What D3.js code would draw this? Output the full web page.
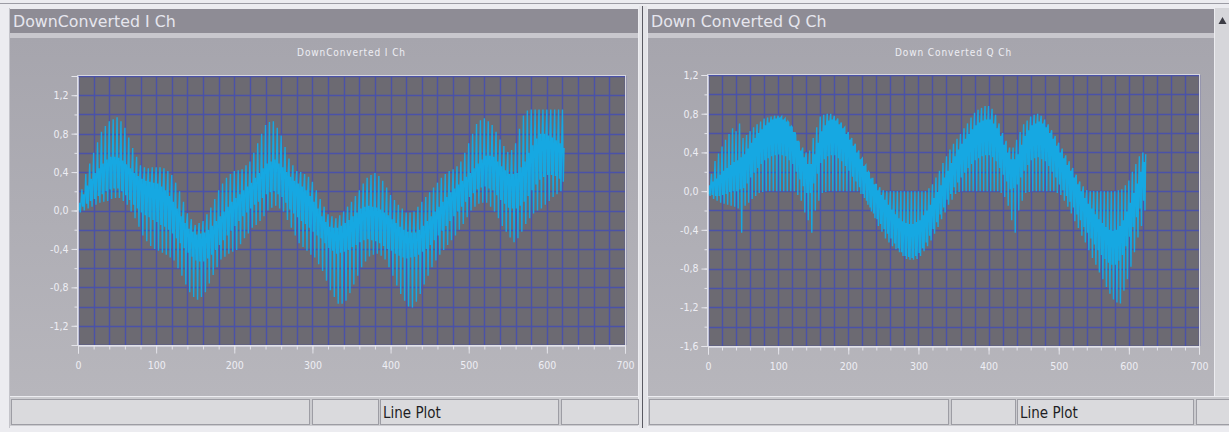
<!DOCTYPE html>
<html>
<head>
<meta charset="utf-8">
<script src="https://cdn.jsdelivr.net/npm/d3@7"></script>
<style>
  html, body { margin: 0; padding: 0; background: #ececf0; }
  svg { display: block; }
</style>
</head>
<body>
<svg id="scope" width="1229" height="432"></svg>
<script>
// Sample spacing of the captured records (time units per sample)
const sampleStep = 1;

// Down-converted I channel samples (one row = 10 consecutive samples)
const iChannel = [
  0.00, 0.01, 0.08, -0.02, 0.10, 0.22, 0.04, 0.17, 0.00, 0.18,
  0.38, 0.07, 0.26, 0.02, 0.26, 0.49, 0.10, 0.33, 0.04, 0.33,
  0.60, 0.12, 0.39, 0.06, 0.39, 0.71, 0.15, 0.44, 0.08, 0.44,
  0.82, 0.17, 0.49, 0.09, 0.49, 0.88, 0.20, 0.53, 0.10, 0.53,
  0.93, 0.22, 0.56, 0.12, 0.56, 0.95, 0.23, 0.56, 0.13, 0.56,
  0.97, 0.23, 0.55, 0.13, 0.55, 0.93, 0.20, 0.52, 0.10, 0.52,
  0.86, 0.16, 0.48, 0.06, 0.48, 0.76, 0.11, 0.44, -0.01, 0.44,
  0.65, 0.06, 0.39, -0.08, 0.39, 0.56, 0.02, 0.36, -0.17, 0.36,
  0.47, -0.02, 0.33, -0.26, 0.33, 0.45, -0.05, 0.31, -0.32, 0.31,
  0.44, -0.07, 0.30, -0.37, 0.30, 0.45, -0.10, 0.29, -0.40, 0.29,
  0.45, -0.12, 0.28, -0.42, 0.28, 0.45, -0.15, 0.25, -0.44, 0.25,
  0.44, -0.17, 0.21, -0.46, 0.21, 0.41, -0.20, 0.15, -0.49, 0.15,
  0.37, -0.24, 0.09, -0.52, 0.09, 0.29, -0.29, 0.02, -0.60, 0.02,
  0.20, -0.34, -0.06, -0.68, -0.06, 0.09, -0.39, -0.13, -0.77, -0.13,
  -0.03, -0.44, -0.19, -0.85, -0.19, -0.09, -0.48, -0.22, -0.90, -0.22,
  -0.15, -0.52, -0.25, -0.93, -0.25, -0.13, -0.53, -0.24, -0.90, -0.24,
  -0.11, -0.53, -0.23, -0.85, -0.23, -0.04, -0.50, -0.20, -0.76, -0.20,
  0.03, -0.46, -0.16, -0.67, -0.16, 0.12, -0.41, -0.11, -0.59, -0.11,
  0.21, -0.36, -0.06, -0.51, -0.06, 0.28, -0.31, -0.01, -0.48, -0.01,
  0.34, -0.26, 0.04, -0.45, 0.04, 0.38, -0.21, 0.09, -0.43, 0.09,
  0.41, -0.16, 0.13, -0.41, 0.13, 0.42, -0.11, 0.17, -0.35, 0.17,
  0.43, -0.06, 0.21, -0.29, 0.21, 0.47, -0.02, 0.25, -0.24, 0.25,
  0.51, 0.02, 0.29, -0.18, 0.29, 0.60, 0.06, 0.34, -0.15, 0.34,
  0.70, 0.09, 0.39, -0.11, 0.39, 0.80, 0.13, 0.44, -0.06, 0.44,
  0.89, 0.17, 0.49, 0.00, 0.49, 0.92, 0.19, 0.51, 0.03, 0.51,
  0.93, 0.20, 0.53, 0.05, 0.53, 0.86, 0.17, 0.49, 0.02, 0.49,
  0.78, 0.14, 0.45, -0.01, 0.45, 0.66, 0.08, 0.40, -0.10, 0.40,
  0.54, 0.01, 0.35, -0.18, 0.35, 0.47, -0.03, 0.31, -0.26, 0.31,
  0.41, -0.07, 0.28, -0.34, 0.28, 0.40, -0.11, 0.25, -0.38, 0.25,
  0.38, -0.14, 0.21, -0.42, 0.21, 0.35, -0.18, 0.15, -0.46, 0.15,
  0.30, -0.22, 0.09, -0.49, 0.09, 0.21, -0.26, 0.02, -0.56, 0.02,
  0.12, -0.29, -0.06, -0.63, -0.06, 0.04, -0.34, -0.12, -0.73, -0.12,
  -0.04, -0.39, -0.17, -0.83, -0.17, -0.06, -0.42, -0.18, -0.90, -0.18,
  -0.08, -0.45, -0.18, -0.97, -0.18, -0.05, -0.44, -0.16, -0.97, -0.16,
  -0.01, -0.43, -0.13, -0.94, -0.13, 0.04, -0.41, -0.10, -0.86, -0.10,
  0.09, -0.38, -0.06, -0.77, -0.06, 0.15, -0.36, -0.02, -0.68, -0.02,
  0.21, -0.33, 0.02, -0.59, 0.02, 0.28, -0.31, 0.04, -0.53, 0.04,
  0.34, -0.30, 0.05, -0.48, 0.05, 0.37, -0.31, 0.04, -0.46, 0.04,
  0.39, -0.32, 0.03, -0.45, 0.03, 0.36, -0.34, 0.01, -0.47, 0.01,
  0.31, -0.37, -0.02, -0.51, -0.02, 0.24, -0.40, -0.05, -0.59, -0.05,
  0.16, -0.42, -0.09, -0.68, -0.09, 0.11, -0.45, -0.13, -0.78, -0.13,
  0.06, -0.47, -0.17, -0.87, -0.17, 0.02, -0.49, -0.20, -0.94, -0.20,
  -0.02, -0.50, -0.22, -1.00, -0.22, -0.02, -0.49, -0.23, -1.01, -0.23,
  -0.01, -0.48, -0.23, -0.95, -0.23, 0.04, -0.46, -0.20, -0.87, -0.20,
  0.09, -0.43, -0.16, -0.77, -0.16, 0.14, -0.40, -0.11, -0.68, -0.11,
  0.19, -0.36, -0.06, -0.59, -0.06, 0.24, -0.31, -0.01, -0.52, -0.01,
  0.29, -0.26, 0.04, -0.46, 0.04, 0.34, -0.21, 0.09, -0.41, 0.09,
  0.38, -0.16, 0.14, -0.36, 0.14, 0.41, -0.11, 0.19, -0.31, 0.19,
  0.43, -0.06, 0.23, -0.26, 0.23, 0.46, -0.01, 0.27, -0.20, 0.27,
  0.51, 0.04, 0.31, -0.14, 0.31, 0.60, 0.09, 0.35, -0.07, 0.35,
  0.70, 0.14, 0.39, 0.00, 0.39, 0.80, 0.18, 0.44, 0.04, 0.44,
  0.90, 0.22, 0.49, 0.07, 0.49, 0.94, 0.24, 0.53, 0.08, 0.53,
  0.96, 0.25, 0.57, 0.08, 0.57, 0.93, 0.23, 0.57, 0.04, 0.57,
  0.89, 0.21, 0.56, -0.01, 0.56, 0.82, 0.16, 0.51, -0.08, 0.51,
  0.74, 0.11, 0.46, -0.16, 0.46, 0.67, 0.07, 0.42, -0.22, 0.42,
  0.61, 0.03, 0.38, -0.28, 0.38, 0.63, 0.02, 0.38, -0.33, 0.38,
  0.70, 0.02, 0.39, -0.29, 0.39, 0.85, 0.05, 0.45, -0.22, 0.45,
  0.99, 0.09, 0.51, -0.14, 0.51, 1.04, 0.15, 0.60, -0.08, 0.60,
  1.05, 0.21, 0.68, -0.03, 0.68, 1.05, 0.27, 0.75, 0.00, 0.75,
  1.05, 0.32, 0.80, 0.02, 0.80, 1.05, 0.35, 0.80, 0.06, 0.80,
  1.05, 0.37, 0.78, 0.10, 0.78, 1.05, 0.37, 0.76, 0.14, 0.76,
  1.05, 0.36, 0.73, 0.17, 0.73, 1.05, 0.33, 0.70, 0.20, 0.70,
  1.05, 0.30, 0.65
];

// Down-converted Q channel samples (one row = 10 consecutive samples)
const qChannel = [
  0.00, -0.03, 0.06, -0.05, 0.08, 0.18, -0.04, 0.10, -0.08, 0.11,
  0.31, -0.05, 0.13, -0.10, 0.13, 0.39, -0.05, 0.17, -0.12, 0.17,
  0.46, -0.04, 0.21, -0.13, 0.21, 0.53, -0.03, 0.24, -0.14, 0.24,
  0.59, -0.01, 0.27, -0.15, 0.27, 0.65, 0.00, 0.30, -0.16, 0.31,
  0.62, 0.00, 0.32, -0.18, 0.33, 0.70, 0.02, 0.35, -0.43, 0.36,
  0.55, 0.03, 0.38, -0.15, 0.40, 0.58, 0.08, 0.44, -0.12, 0.45,
  0.62, 0.14, 0.50, -0.08, 0.50, 0.66, 0.19, 0.55, -0.05, 0.55,
  0.69, 0.24, 0.60, -0.02, 0.60, 0.72, 0.28, 0.64, -0.01, 0.64,
  0.75, 0.32, 0.68, 0.00, 0.68, 0.76, 0.34, 0.71, 0.00, 0.71,
  0.77, 0.36, 0.74, 0.00, 0.74, 0.78, 0.37, 0.75, 0.00, 0.75,
  0.78, 0.38, 0.76, 0.00, 0.76, 0.77, 0.37, 0.74, 0.00, 0.74,
  0.75, 0.36, 0.72, 0.00, 0.72, 0.71, 0.32, 0.67, 0.00, 0.67,
  0.66, 0.28, 0.61, 0.00, 0.61, 0.58, 0.20, 0.52, -0.04, 0.52,
  0.50, 0.12, 0.42, -0.10, 0.42, 0.45, 0.05, 0.35, -0.22, 0.35,
  0.40, -0.02, 0.28, -0.30, 0.28, 0.42, -0.02, 0.28, -0.43, 0.30,
  0.55, 0.08, 0.38, -0.20, 0.40, 0.66, 0.18, 0.50, -0.10, 0.51,
  0.77, 0.29, 0.62, -0.02, 0.62, 0.79, 0.33, 0.68, -0.01, 0.68,
  0.80, 0.36, 0.73, 0.00, 0.73, 0.80, 0.37, 0.74, 0.00, 0.74,
  0.78, 0.37, 0.73, 0.00, 0.73, 0.75, 0.34, 0.69, 0.00, 0.69,
  0.71, 0.31, 0.65, 0.00, 0.65, 0.66, 0.26, 0.59, 0.00, 0.59,
  0.61, 0.21, 0.53, 0.00, 0.53, 0.55, 0.15, 0.47, 0.00, 0.47,
  0.49, 0.10, 0.40, 0.00, 0.40, 0.42, 0.04, 0.33, -0.03, 0.33,
  0.34, -0.03, 0.26, -0.07, 0.26, 0.27, -0.10, 0.20, -0.14, 0.20,
  0.19, -0.17, 0.13, -0.21, 0.13, 0.13, -0.23, 0.07, -0.28, 0.07,
  0.07, -0.29, 0.01, -0.36, 0.01, 0.04, -0.34, -0.04, -0.42, -0.04,
  0.01, -0.39, -0.09, -0.49, -0.09, 0.00, -0.44, -0.14, -0.53, -0.14,
  0.00, -0.49, -0.19, -0.57, -0.19, 0.00, -0.54, -0.24, -0.60, -0.24,
  0.00, -0.59, -0.28, -0.63, -0.28, 0.00, -0.63, -0.31, -0.67, -0.31,
  0.00, -0.67, -0.33, -0.70, -0.33, 0.00, -0.68, -0.34, -0.71, -0.34,
  0.00, -0.69, -0.34, -0.71, -0.34, 0.00, -0.67, -0.32, -0.70, -0.32,
  0.00, -0.64, -0.30, -0.67, -0.30, 0.00, -0.59, -0.25, -0.62, -0.25,
  0.00, -0.53, -0.20, -0.57, -0.20, 0.03, -0.46, -0.14, -0.51, -0.14,
  0.07, -0.39, -0.07, -0.44, -0.07, 0.14, -0.32, -0.01, -0.37, -0.01,
  0.21, -0.24, 0.06, -0.29, 0.06, 0.29, -0.17, 0.14, -0.22, 0.14,
  0.36, -0.09, 0.21, -0.14, 0.21, 0.43, -0.03, 0.29, -0.09, 0.29,
  0.49, 0.04, 0.36, -0.03, 0.36, 0.54, 0.09, 0.43, -0.01, 0.43,
  0.59, 0.14, 0.49, 0.00, 0.49, 0.65, 0.19, 0.54, 0.00, 0.54,
  0.70, 0.24, 0.59, 0.00, 0.59, 0.76, 0.28, 0.64, 0.00, 0.64,
  0.81, 0.32, 0.68, 0.00, 0.68, 0.84, 0.34, 0.71, 0.00, 0.71,
  0.86, 0.36, 0.73, 0.00, 0.73, 0.88, 0.37, 0.74, 0.00, 0.74,
  0.88, 0.37, 0.74, 0.00, 0.74, 0.85, 0.35, 0.70, 0.00, 0.70,
  0.79, 0.31, 0.65, 0.00, 0.65, 0.70, 0.24, 0.57, -0.02, 0.57,
  0.60, 0.17, 0.48, -0.06, 0.48, 0.52, 0.10, 0.40, -0.15, 0.40,
  0.45, 0.02, 0.33, -0.30, 0.33, 0.45, 0.03, 0.33, -0.43, 0.35,
  0.53, 0.07, 0.38, -0.20, 0.40, 0.61, 0.14, 0.48, -0.10, 0.48,
  0.69, 0.21, 0.57, -0.02, 0.57, 0.73, 0.27, 0.63, -0.01, 0.63,
  0.77, 0.32, 0.68, 0.00, 0.68, 0.79, 0.34, 0.70, 0.00, 0.70,
  0.80, 0.35, 0.72, 0.00, 0.72, 0.78, 0.33, 0.70, 0.00, 0.70,
  0.74, 0.31, 0.66, 0.00, 0.66, 0.69, 0.26, 0.60, 0.00, 0.60,
  0.63, 0.20, 0.54, 0.00, 0.54, 0.57, 0.14, 0.47, -0.02, 0.47,
  0.50, 0.07, 0.40, -0.04, 0.40, 0.44, 0.01, 0.34, -0.10, 0.34,
  0.37, -0.05, 0.27, -0.16, 0.27, 0.31, -0.11, 0.21, -0.23, 0.21,
  0.24, -0.17, 0.14, -0.31, 0.14, 0.17, -0.24, 0.07, -0.38, 0.07,
  0.10, -0.30, 0.00, -0.46, 0.00, 0.05, -0.37, -0.07, -0.53, -0.07,
  0.01, -0.43, -0.13, -0.61, -0.13, 0.00, -0.49, -0.18, -0.69, -0.18,
  0.00, -0.55, -0.24, -0.76, -0.24, 0.00, -0.61, -0.29, -0.84, -0.29,
  0.00, -0.66, -0.33, -0.91, -0.33, 0.00, -0.70, -0.37, -0.99, -0.37,
  0.00, -0.74, -0.40, -1.06, -0.40, 0.00, -0.76, -0.41, -1.12, -0.41,
  0.00, -0.76, -0.40, -1.15, -0.40, 0.01, -0.72, -0.36, -1.16, -0.36,
  0.02, -0.66, -0.30, -1.03, -0.30, 0.06, -0.57, -0.21, -0.91, -0.21,
  0.11, -0.47, -0.12, -0.78, -0.12, 0.20, -0.37, -0.02, -0.63, -0.02,
  0.28, -0.27, 0.08, -0.48, 0.08, 0.36, -0.18, 0.20, -0.36, 0.22,
  0.40, -0.10, 0.30, -0.20, 0.38
];

// Axis tick values and labels
const xTickValues = [0, 100, 200, 300, 400, 500, 600, 700];
const xMinorTicks = [0, 20, 40, 60, 80, 100, 120, 140, 160, 180, 200, 220, 240, 260, 280, 300, 320, 340,
  360, 380, 400, 420, 440, 460, 480, 500, 520, 540, 560, 580, 600, 620, 640, 660, 680, 700];
const iYTicks = [1.2, 0.8, 0.4, 0.0, -0.4, -0.8, -1.2];
const iYMinor = [1.4, 1.2, 1.0, 0.8, 0.6, 0.4, 0.2, 0.0, -0.2, -0.4, -0.6, -0.8, -1.0, -1.2, -1.4];
const qYTicks = [1.2, 0.8, 0.4, 0.0, -0.4, -0.8, -1.2, -1.6];
const qYMinor = [1.2, 1.0, 0.8, 0.6, 0.4, 0.2, 0.0, -0.2, -0.4, -0.6, -0.8, -1.0, -1.2, -1.4, -1.6];

const windowTitles = ["DownConverted I Ch", "Down Converted Q Ch"];
const plotTitles = ["DownConverted I Ch", "Down Converted Q Ch"];
const statusText = "Line Plot";

const svg = d3.select("#scope");
const W = 1229, H = 432;

const fmt = d3.formatLocale({
  decimal: ",", thousands: ".", grouping: [3], currency: ["", ""], minus: "-"
}).format(".1f");

const defs = svg.append("defs");
const grad = defs.append("linearGradient").attr("id", "panelFill")
  .attr("x1", 0).attr("y1", 0).attr("x2", 0).attr("y2", 1);
grad.append("stop").attr("offset", "0%").attr("stop-color", "#a6a5ad");
grad.append("stop").attr("offset", "100%").attr("stop-color", "#b7b6bc");

// page background and top border
svg.append("rect").attr("width", W).attr("height", H).attr("fill", "#ececf0");
svg.append("line").attr("x1", 0).attr("x2", W).attr("y1", 3.5).attr("y2", 3.5)
  .attr("stroke", "#9c9ca4").attr("stroke-width", 1);

const windows = [
  {
    left: 10, right: 638, title: windowTitles[0], subtitle: plotTitles[0],
    plot: { l: 78, r: 625, t: 76, b: 345 }, yDomain: [-1.4, 1.4],
    yMajor: iYTicks, yMinor: iYMinor, data: iChannel,
    sections: [[11, 309], [312, 378], [380, 558], [561, 638]], statusX: 383
  },
  {
    left: 648, right: 1214, title: windowTitles[1], subtitle: plotTitles[1],
    plot: { l: 708, r: 1199, t: 75, b: 346 }, yDomain: [-1.6, 1.2],
    yMajor: qYTicks, yMinor: qYMinor, data: qChannel,
    sections: [[649, 948], [951, 1015], [1017, 1193], [1196, 1232]], statusX: 1020
  }
];

// divider between the two windows
svg.append("rect").attr("x", 639).attr("y", 6).attr("width", 8).attr("height", 422).attr("fill", "#e4e4e8");
svg.append("line").attr("x1", 642.5).attr("x2", 642.5).attr("y1", 6).attr("y2", 428)
  .attr("stroke", "#5a5a62").attr("stroke-width", 1);
svg.append("line").attr("x1", 9.5).attr("x2", 9.5).attr("y1", 8).attr("y2", 428)
  .attr("stroke", "#c4c4ca").attr("stroke-width", 1);

// scroll bar strip on the right window
svg.append("rect").attr("x", 1215).attr("y", 8).attr("width", 14).attr("height", 388).attr("fill", "#d6d6da");
svg.append("path").attr("d", "M1218.5,24 L1222.5,17 L1226.5,24 Z").attr("fill", "#3c3c44");

windows.forEach(win => {
  const wW = win.right - win.left;

  // title bar
  svg.append("rect").attr("x", win.left).attr("y", 9).attr("width", wW).attr("height", 24)
    .attr("fill", "#8e8c95");
  svg.append("text").attr("x", win.left + 3).attr("y", 27)
    .attr("font-family", "DejaVu Sans, Verdana, sans-serif").attr("font-size", 15.8)
    .attr("fill", "#e6e6ee").text(win.title);

  // light separator strip and panel body
  svg.append("rect").attr("x", win.left).attr("y", 33).attr("width", wW).attr("height", 5)
    .attr("fill", "#c8c7cd");
  svg.append("rect").attr("x", win.left).attr("y", 38).attr("width", wW).attr("height", 358)
    .attr("fill", "url(#panelFill)");

  const p = win.plot;
  const x = d3.scaleLinear().domain([0, 700]).range([p.l, p.r]);
  const y = d3.scaleLinear().domain(win.yDomain).range([p.b, p.t]);

  // plot subtitle
  svg.append("text").attr("x", (p.l + p.r) / 2).attr("y", 56)
    .attr("text-anchor", "middle")
    .attr("font-family", "Liberation Sans Narrow, DejaVu Sans Condensed, sans-serif")
    .attr("font-size", 10).attr("letter-spacing", 0.9)
    .attr("fill", "#eeeef4").text(win.subtitle);

  // plot background
  svg.append("rect").attr("x", p.l).attr("y", p.t).attr("width", p.r - p.l).attr("height", p.b - p.t)
    .attr("fill", "#6c6a72");

  // grid
  const grid = svg.append("g").attr("stroke", "#4a52a8").attr("stroke-width", 1.4);
  grid.selectAll(".gx").data(xMinorTicks).join("line")
    .attr("x1", d => Math.round(x(d)) + 0.5).attr("x2", d => Math.round(x(d)) + 0.5)
    .attr("y1", p.t).attr("y2", p.b);
  grid.selectAll(".gy").data(win.yMinor).join("line")
    .attr("y1", d => Math.round(y(d)) + 0.5).attr("y2", d => Math.round(y(d)) + 0.5)
    .attr("x1", p.l).attr("x2", p.r);

  // signal trace
  const clipId = "clip" + p.l;
  defs.append("clipPath").attr("id", clipId).append("rect")
    .attr("x", p.l).attr("y", p.t).attr("width", p.r - p.l).attr("height", p.b - p.t);
  const line = d3.line().x((d, i) => x(i * sampleStep)).y(d => y(d));
  svg.append("path").datum(win.data).attr("clip-path", `url(#${clipId})`)
    .attr("d", line).attr("fill", "none")
    .attr("stroke", "#16a8e2").attr("stroke-width", 1.4).attr("stroke-linejoin", "miter");

  // frame
  svg.append("rect").attr("x", p.l - 0.5).attr("y", p.t - 0.5)
    .attr("width", p.r - p.l + 1).attr("height", p.b - p.t + 1)
    .attr("fill", "none").attr("stroke", "#d6d6de").attr("stroke-width", 1);

  const axisFont = "Liberation Sans Narrow, DejaVu Sans Condensed, sans-serif";
  const styleAxis = g => {
    g.select(".domain").attr("stroke", "#e4e4ea");
    g.selectAll(".tick line").attr("stroke", "#e4e4ea");
    g.selectAll(".tick text").attr("fill", "#eeeef4").attr("font-family", axisFont).attr("font-size", 10.5);
  };

  // y axis: minor then labelled ticks
  svg.append("g").attr("transform", `translate(${p.l - 0.5},0)`)
    .call(d3.axisLeft(y).tickValues(win.yMinor).tickSize(3).tickFormat(""))
    .call(styleAxis);
  svg.append("g").attr("transform", `translate(${p.l - 0.5},0)`)
    .call(d3.axisLeft(y).tickValues(win.yMajor).tickSize(6).tickPadding(3).tickFormat(fmt))
    .call(styleAxis);

  // x axis: minor then labelled ticks
  svg.append("g").attr("transform", `translate(0,${p.b + 0.5})`)
    .call(d3.axisBottom(x).tickValues(xMinorTicks).tickSize(4).tickFormat(""))
    .call(styleAxis);
  svg.append("g").attr("transform", `translate(0,${p.b + 0.5})`)
    .call(d3.axisBottom(x).tickValues(xTickValues).tickSize(8).tickPadding(8).tickFormat(d3.format("d")))
    .call(styleAxis);

  // status bar
  svg.append("rect").attr("x", win.left).attr("y", 397).attr("width", wW + (win.left > 600 ? 20 : 0)).attr("height", 29)
    .attr("fill", "#cbcbcf");
  win.sections.forEach(s => {
    svg.append("rect").attr("x", s[0] + 0.5).attr("y", 399.5).attr("width", s[1] - s[0]).attr("height", 25)
      .attr("fill", "#dadadd").attr("stroke", "#9d9da4").attr("stroke-width", 1);
  });
  svg.append("text").attr("x", win.statusX).attr("y", 418)
    .attr("font-family", "Liberation Sans Narrow, DejaVu Sans Condensed, sans-serif")
    .attr("font-size", 15).attr("fill", "#1e1e24").text(statusText);
});
</script>
</body>
</html>
